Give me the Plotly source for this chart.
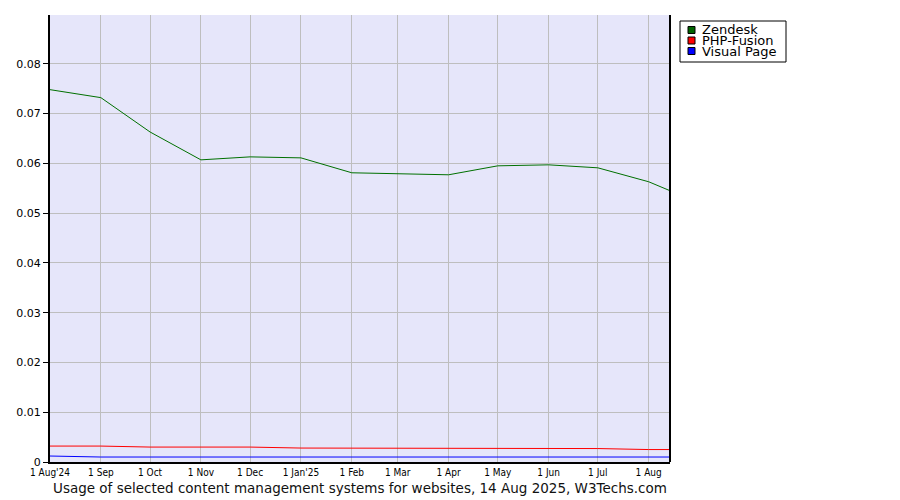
import plotly.graph_objects as go

dates = ["2024-08-01", "2024-09-01", "2024-10-01", "2024-11-01", "2024-12-01",
         "2025-01-01", "2025-02-01", "2025-03-01", "2025-04-01", "2025-05-01",
         "2025-06-01", "2025-07-01", "2025-08-01", "2025-08-14"]
zendesk = [0.0748, 0.0732, 0.0663, 0.0607, 0.0613, 0.0611, 0.0581, 0.0579,
           0.0577, 0.0595, 0.0597, 0.0591, 0.0563, 0.0545]
php_fusion = [0.0032, 0.0032, 0.0030, 0.0030, 0.0030, 0.0028, 0.0028, 0.0028,
              0.0027, 0.0027, 0.0027, 0.0027, 0.0025, 0.0025]
visual_page = [0.0012, 0.0010, 0.0010, 0.0010, 0.0010, 0.0010, 0.0010, 0.0010,
               0.0010, 0.0010, 0.0010, 0.0010, 0.0010, 0.0010]

tick_vals = ["2024-08-01", "2024-09-01", "2024-10-01", "2024-11-01", "2024-12-01",
             "2025-01-01", "2025-02-01", "2025-03-01", "2025-04-01", "2025-05-01",
             "2025-06-01", "2025-07-01", "2025-08-01"]
tick_text = ["1 Aug'24", "1 Sep", "1 Oct", "1 Nov", "1 Dec", "1 Jan'25", "1 Feb",
             "1 Mar", "1 Apr", "1 May", "1 Jun", "1 Jul", "1 Aug"]

y_tick_vals = [0, 0.01, 0.02, 0.03, 0.04, 0.05, 0.06, 0.07, 0.08]
y_tick_text = ["0", "0.01", "0.02", "0.03", "0.04", "0.05", "0.06", "0.07", "0.08"]

series_names = ["Zendesk", "PHP-Fusion", "Visual Page"]
series_values = [zendesk, php_fusion, visual_page]
line_colors = ["#007000", "#FF0000", "#0000FF"]
swatch_colors = ["#006400", "#FF0000", "#0000FF"]

title_text = "Usage of selected content management systems for websites, 14 Aug 2025, W3Techs.com"

# Page offset (browser body margin) compensation
OFF = 8
W, H = 900 - OFF, 500 - OFF
L, R, T, B = 50 - OFF, 230, 15 - OFF, 38
PW = W - L - R
PH = H - T - B


def px(xp):
    return (xp - OFF - L) / PW


def py(yp):
    return (T + PH + OFF - yp) / PH


fig = go.Figure()
for name, vals, lc in zip(series_names, series_values, line_colors):
    fig.add_trace(go.Scatter(x=dates, y=vals, mode="lines", name=name,
                             line=dict(color=lc, width=1), showlegend=False,
                             hoverinfo="skip"))

shapes = [dict(type="line", xref="paper", yref="paper", x0=1, x1=1, y0=0, y1=1,
               line=dict(color="black", width=2), layer="above")]
annotations = [dict(text=title_text, x=px(360), y=py(488), xref="paper", yref="paper",
                    xanchor="center", yanchor="middle", showarrow=False,
                    font=dict(family="DejaVu Sans", size=13.5, color="#111111"))]

# legend box
shapes.append(dict(type="rect", xref="paper", yref="paper",
                   x0=px(680), x1=px(786), y0=py(21), y1=py(62),
                   line=dict(color="black", width=1), fillcolor="white"))
for i, (name, sc) in enumerate(zip(series_names, swatch_colors)):
    cy = 30 + 10.5 * i
    shapes.append(dict(type="rect", xref="paper", yref="paper",
                       x0=px(688), x1=px(695), y0=py(cy - 3.5), y1=py(cy + 3.5),
                       line=dict(color="black", width=1), fillcolor=sc))
    annotations.append(dict(text=name, x=px(700), y=py(cy), xref="paper", yref="paper",
                            xanchor="left", yanchor="middle", showarrow=False,
                            font=dict(family="DejaVu Sans", size=13, color="black")))

fig.update_layout(
    width=W, height=H,
    margin=dict(l=L, r=R, t=T, b=B, autoexpand=False),
    paper_bgcolor="white",
    plot_bgcolor="#E6E6FA",
    font=dict(family="DejaVu Sans", size=11, color="black"),
    showlegend=False,
    xaxis=dict(type="date", range=["2024-08-01", "2025-08-14"],
               tickvals=tick_vals, ticktext=tick_text,
               showgrid=True, gridcolor="#BEBEBE", gridwidth=1,
               showline=True, linecolor="black", linewidth=2,
               ticks="", ticklen=0,
               tickfont=dict(family="DejaVu Sans Condensed", size=10),
               zeroline=False, automargin=False),
    yaxis=dict(range=[0, 0.0898], tickvals=y_tick_vals, ticktext=y_tick_text,
               showgrid=True, gridcolor="#BEBEBE", gridwidth=1,
               showline=True, linecolor="black", linewidth=2,
               ticks="outside", ticklen=5, tickcolor="black",
               tickfont=dict(family="DejaVu Sans", size=11),
               zeroline=False, automargin=False),
    shapes=shapes,
    annotations=annotations,
)

fig.write_html("out.html")
